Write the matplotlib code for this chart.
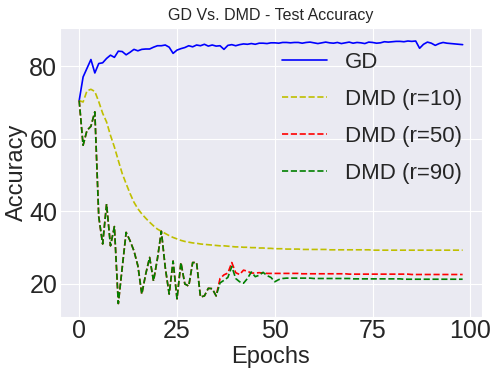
import matplotlib
matplotlib.use('Agg')
import matplotlib.pyplot as plt
import seaborn as sns

sns.set_style('darkgrid')
plt.rcParams['font.family'] = ['Liberation Sans', 'DejaVu Sans']

# test accuracy per epoch
gd = [70.5, 77.0, 79.4, 81.8, 78.1, 80.7, 80.9, 82.1, 83.0, 82.4,
      84.1, 84.0, 83.1, 83.8, 84.6, 84.2, 84.6, 84.7, 84.7, 85.2,
      85.6, 85.6, 85.8, 85.2, 83.5, 84.4, 84.8, 85.1, 85.6, 85.3,
      85.8, 85.6, 86.0, 85.5, 85.8, 85.5, 85.6, 84.6, 85.7, 85.9,
      85.6, 85.9, 86.1, 86.0, 86.2, 86.0, 86.3, 86.3, 86.2, 86.4,
      86.4, 86.3, 86.5, 86.5, 86.4, 86.5, 86.5, 86.3, 86.5, 86.6,
      86.4, 86.2, 86.4, 86.6, 86.4, 86.3, 86.5, 86.2, 86.4, 86.6,
      86.3, 86.5, 86.4, 86.2, 86.6, 86.5, 86.3, 86.4, 86.7, 86.6,
      86.7, 86.8, 86.8, 86.7, 86.9, 86.8, 86.9, 84.9, 86.0, 86.6,
      86.3, 85.7, 86.2, 86.5, 86.3, 86.2, 86.1, 86.0, 85.9]

dmd10 = [70.5, 70.1, 73.2, 73.6, 73.0, 70.2, 67.0, 64.6, 60.9, 57.7,
         54.0, 50.4, 47.6, 44.9, 42.5, 40.7, 39.3, 38.1, 37.0, 36.0,
         35.1, 34.5, 33.9, 33.3, 32.8, 32.4, 32.0, 31.7, 31.5, 31.3,
         31.2, 31.0, 30.9, 30.8, 30.7, 30.6, 30.5, 30.5, 30.4, 30.3,
         30.2, 30.2, 30.1, 30.1, 30.0, 30.0, 29.9, 29.9, 29.8, 29.8,
         29.7, 29.7, 29.7, 29.6, 29.6, 29.6, 29.6, 29.5, 29.5, 29.5,
         29.5, 29.5, 29.5, 29.5, 29.4, 29.4, 29.4, 29.4, 29.4, 29.4,
         29.4, 29.4, 29.4, 29.4, 29.4, 29.3, 29.3, 29.3, 29.3, 29.3,
         29.3, 29.3, 29.3, 29.3, 29.3, 29.3, 29.3, 29.3, 29.3, 29.3,
         29.3, 29.3, 29.3, 29.3, 29.3, 29.3, 29.3, 29.3, 29.3]

dmd50 = [70.5, 58.2, 62.3, 63.4, 67.4, 38.5, 31.0, 42.0, 30.5, 35.8,
         14.6, 24.5, 34.2, 31.9, 29.1, 25.0, 17.2, 22.7, 27.3, 20.8,
         27.0, 34.5, 24.5, 17.2, 26.3, 15.9, 25.9, 20.0, 19.4, 25.9,
         25.9, 16.4, 16.7, 18.8, 18.7, 16.7, 21.5, 22.5, 23.0, 25.9,
         23.1, 22.6, 23.8, 23.5, 23.0, 23.0, 23.1, 23.0, 22.9, 22.9,
         22.9, 22.9, 22.9, 22.9, 22.9, 22.9, 22.9, 22.8, 22.8, 22.8,
         22.8, 22.8, 22.8, 22.8, 22.8, 22.8, 22.8, 22.8, 22.8, 22.7,
         22.7, 22.7, 22.7, 22.7, 22.7, 22.7, 22.7, 22.7, 22.7, 22.7,
         22.7, 22.7, 22.7, 22.7, 22.7, 22.6, 22.6, 22.6, 22.6, 22.6,
         22.6, 22.6, 22.6, 22.6, 22.6, 22.6, 22.6, 22.6, 22.6]

dmd90 = [70.5, 58.2, 62.3, 63.4, 67.4, 38.5, 31.0, 42.0, 30.5, 35.8,
         14.6, 24.5, 34.2, 31.9, 29.1, 25.0, 17.2, 22.7, 27.3, 20.8,
         27.0, 34.5, 24.5, 17.2, 26.3, 15.9, 25.9, 20.0, 19.4, 25.9,
         25.9, 16.4, 16.7, 18.8, 18.7, 16.7, 20.3, 21.0, 21.8, 24.8,
         21.5, 20.6, 20.2, 21.5, 23.3, 22.0, 22.4, 23.2, 22.3, 21.8,
         20.6, 21.2, 21.5, 21.6, 21.6, 21.6, 21.6, 21.6, 21.6, 21.6,
         21.5, 21.5, 21.5, 21.5, 21.5, 21.5, 21.5, 21.5, 21.5, 21.5,
         21.4, 21.4, 21.4, 21.4, 21.4, 21.4, 21.4, 21.4, 21.4, 21.4,
         21.4, 21.4, 21.4, 21.3, 21.3, 21.3, 21.3, 21.3, 21.3, 21.3,
         21.3, 21.3, 21.3, 21.3, 21.3, 21.3, 21.3, 21.3, 21.3]

epochs = list(range(len(gd)))

fig = plt.figure(figsize=(4.98, 3.82), dpi=100)
ax = fig.add_axes([0.1205, 0.171, 0.847, 0.756])

ax.plot(epochs, gd, color='b', linestyle='-', linewidth=1.2, label='GD')
ax.plot(epochs, dmd10, color='y', linestyle='--', linewidth=1.2, label='DMD (r=10)')
ax.plot(epochs, dmd50, color='r', linestyle='--', linewidth=1.2, label='DMD (r=50)')
ax.plot(epochs, dmd90, color='g', linestyle='--', linewidth=1.2, label='DMD (r=90)')

ax.set_title('GD Vs. DMD - Test Accuracy', fontsize=11.5)
ax.set_xlabel('Epochs', fontsize=17, labelpad=2)
ax.set_ylabel('Accuracy', fontsize=17)
ax.yaxis.set_label_coords(-0.076, 0.5)
ax.tick_params(labelsize=18, pad=2, length=0)
ax.legend(loc='upper right', fontsize=16, frameon=False, labelspacing=0.72,
          bbox_to_anchor=(1.0, 0.985))

plt.savefig('out.png', dpi=100)
